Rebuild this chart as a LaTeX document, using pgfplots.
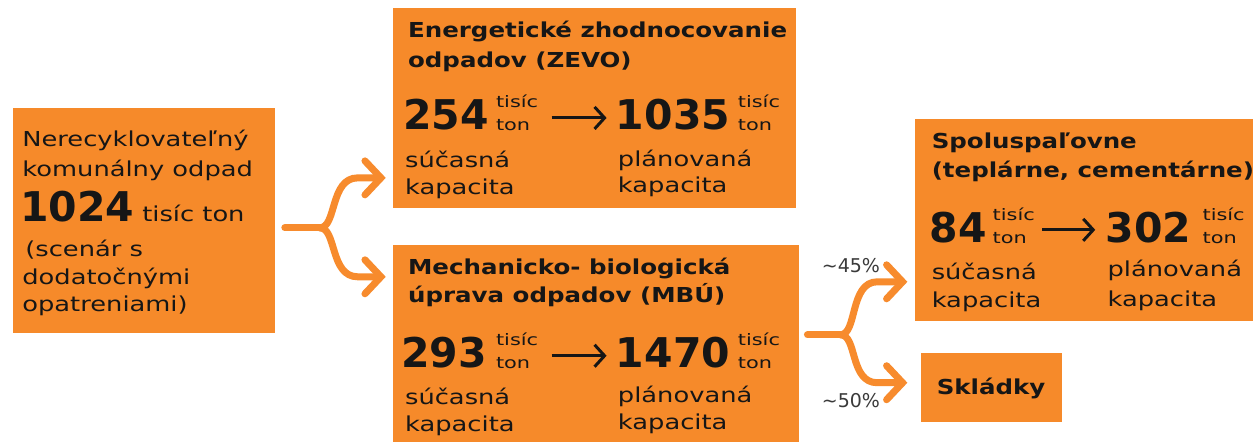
\documentclass[border=0pt]{standalone}
\usepackage{pgfplots}
\pgfplotsset{compat=1.18}
\usepackage{fontspec}
\usetikzlibrary{arrows.meta}
\setmainfont{DejaVu Sans}[FakeStretch=1.25]
\newfontfamily\smlfont{DejaVu Sans}[FakeStretch=1.32]
\newfontfamily\ttlfont{DejaVu Sans}[FakeStretch=1.19]
\newfontfamily\numfont{DejaVu Sans}
\definecolor{boxor}{HTML}{F68A2A}
\definecolor{arror}{HTML}{F78B2D}
\definecolor{ink}{HTML}{161616}
\definecolor{pct}{HTML}{3A3A3A}
\newcommand\tisicton{\begin{tabular}[b]{@{}l@{}}tisíc\\ton\end{tabular}}
\tikzset{
  reg/.style={anchor=base west, inner sep=0pt, text=ink, font=\fontsize{10.3}{12}\selectfont},
  ttl/.style={anchor=base west, inner sep=0pt, text=ink, font=\ttlfont\bfseries\fontsize{10.3}{12}\selectfont},
  big/.style={anchor=base west, inner sep=0pt, text=ink, font=\numfont\bfseries\fontsize{20.5}{22}\selectfont},
  sml/.style={anchor=base west, inner sep=0pt, text=ink, font=\smlfont\fontsize{7.9}{11.6}\selectfont},
  pc/.style={anchor=base west, inner sep=0pt, text=pct, font=\numfont\fontsize{9.5}{11}\selectfont},
  oarr/.style={draw=arror, line width=3.5pt, line cap=round, -{Straight Barb[length=8pt, width=17pt, line cap=round]}},
  barr/.style={draw=ink, line width=1.5pt, -{Straight Barb[length=5pt, width=11pt]}},
}
\begin{document}
\begin{tikzpicture}
\begin{axis}[
  width=627pt, height=221pt, scale only axis,
  xmin=0, xmax=1254, ymin=0, ymax=442, y dir=reverse,
  hide axis, clip=false,
]
% background
\addplot[draw=none, fill=white] coordinates {(0,0) (1254,0) (1254,442) (0,442)} -- cycle;
% boxes
\addplot[draw=none, fill=boxor] coordinates {(13,108) (275,108) (275,333) (13,333)} -- cycle;
\addplot[draw=none, fill=boxor] coordinates {(393,8) (797,8) (797,208) (393,208)} -- cycle;
\addplot[draw=none, fill=boxor] coordinates {(393,245) (800,245) (800,442) (393,442)} -- cycle;
\addplot[draw=none, fill=boxor] coordinates {(916,119) (1254,119) (1254,321) (916,321)} -- cycle;
\addplot[draw=none, fill=boxor] coordinates {(922,353) (1063,353) (1063,422) (922,422)} -- cycle;

% orange flow arrows (left)
\draw[draw=arror, line width=3.5pt, line cap=round] (axis cs:285,228) -- (axis cs:322,228);
\draw[oarr] (axis cs:320,228) .. controls (axis cs:337,228) and (axis cs:330,178) .. (axis cs:358,178) -- (axis cs:386,178);
\draw[oarr] (axis cs:320,228) .. controls (axis cs:337,228) and (axis cs:330,277) .. (axis cs:358,277) -- (axis cs:386,277);
% orange flow arrows (right)
\draw[draw=arror, line width=3.5pt, line cap=round] (axis cs:808,335) -- (axis cs:843,335);
\draw[oarr] (axis cs:841,335) .. controls (axis cs:858,335) and (axis cs:850,282) .. (axis cs:878,282) -- (axis cs:908,282);
\draw[oarr] (axis cs:841,335) .. controls (axis cs:858,335) and (axis cs:850,383) .. (axis cs:878,383) -- (axis cs:908,383);
\node[pc] at (axis cs:822,273) {\textasciitilde45\%};
\node[pc] at (axis cs:822,408) {\textasciitilde50\%};

% Box 1
\node[reg] at (axis cs:22,147) {Nerecyklovateľný};
\node[reg] at (axis cs:22,177) {komunálny odpad};
\node[big] at (axis cs:20,222) {1024};
\node[reg] at (axis cs:142,222) {tisíc ton};
\node[reg] at (axis cs:25,257) {(scenár s};
\node[reg] at (axis cs:22,285) {dodatočnými};
\node[reg] at (axis cs:22,312) {opatreniami)};

% Box 2
\node[ttl] at (axis cs:408,38) {Energetické zhodnocovanie};
\node[ttl] at (axis cs:408,68) {odpadov (ZEVO)};
\node[big] at (axis cs:403,130) {254};
\node[sml] at (axis cs:496,131) {\tisicton};
\draw[barr] (axis cs:552,118) -- (axis cs:607,118);
\node[big] at (axis cs:616,130) {1035};
\node[sml] at (axis cs:738,131) {\tisicton};
\node[reg] at (axis cs:405,168) {súčasná};
\node[reg] at (axis cs:405,195) {kapacita};
\node[reg] at (axis cs:618,167) {plánovaná};
\node[reg] at (axis cs:618,193) {kapacita};

% Box 3
\node[ttl] at (axis cs:408,275) {Mechanicko- biologická};
\node[ttl] at (axis cs:408,303) {úprava odpadov (MBÚ)};
\node[big] at (axis cs:401,368) {293};
\node[sml] at (axis cs:496,369) {\tisicton};
\draw[barr] (axis cs:552,356) -- (axis cs:607,356);
\node[big] at (axis cs:616,368) {1470};
\node[sml] at (axis cs:738,369) {\tisicton};
\node[reg] at (axis cs:405,405) {súčasná};
\node[reg] at (axis cs:405,432) {kapacita};
\node[reg] at (axis cs:618,403) {plánovaná};
\node[reg] at (axis cs:618,430) {kapacita};

% Box 4
\node[ttl] at (axis cs:932,149) {Spoluspaľovne};
\node[ttl] at (axis cs:932,178) {(teplárne, cementárne)};
\node[big] at (axis cs:930,243) {84};
\node[sml] at (axis cs:993,244) {\tisicton};
\draw[barr] (axis cs:1043,230) -- (axis cs:1096,230);
\node[big] at (axis cs:1106,243) {302};
\node[sml] at (axis cs:1203,244) {\tisicton};
\node[reg] at (axis cs:932,280) {súčasná};
\node[reg] at (axis cs:932,308) {kapacita};
\node[reg] at (axis cs:1108,277) {plánovaná};
\node[reg] at (axis cs:1108,307) {kapacita};

% Box 5
\node[ttl] at (axis cs:937,395) {Skládky};
\end{axis}
\end{tikzpicture}
\end{document}
